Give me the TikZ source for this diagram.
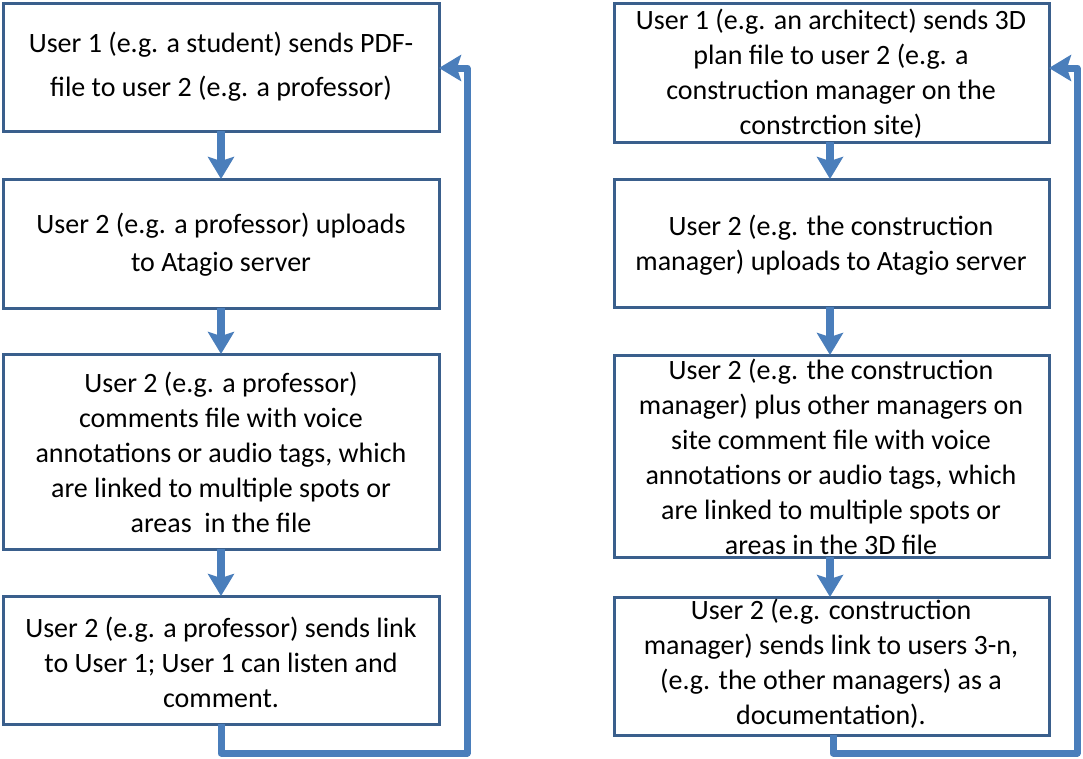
\documentclass[tikz,border=0pt]{standalone}
\usepackage{fontspec}
\setmainfont{Carlito}
\usetikzlibrary{arrows.meta}
\definecolor{boxline}{HTML}{3A5F8C}
\definecolor{arrowblue}{HTML}{4A7EBB}
\tikzset{
  stepbox/.style={draw=boxline, line width=3pt, fill=white, inner sep=0pt},
  boxtext/.style={align=center, font=\fontsize{28}{35}\selectfont, inner sep=0pt},
  flowarrow/.style={draw=arrowblue, line width=8pt, -{Stealth[length=22pt,width=26pt,inset=4pt]}},
  backline/.style={draw=arrowblue, line width=7pt, line join=round, -{Stealth[length=22pt,width=26pt,inset=4pt]}}
}
\begin{document}
\begin{tikzpicture}[x=1pt,y=-1pt]
\useasboundingbox (0,0) rectangle (1083,758);
% left column boxes
\draw[stepbox] (3,3) rectangle (439,131);
\coordinate (L1t) at (221,3); \coordinate (L1b) at (221,131); \coordinate (L1r) at (439,68);
\draw[stepbox] (3,179) rectangle (439,308);
\coordinate (L2t) at (221,179); \coordinate (L2b) at (221,308);
\draw[stepbox] (3,354) rectangle (439,549);
\coordinate (L3t) at (221,354); \coordinate (L3b) at (221,549);
\draw[stepbox] (3,596) rectangle (439,724);
\coordinate (L4t) at (221,596); \coordinate (L4b) at (221,724);
% right column boxes
\draw[stepbox] (614,3) rectangle (1049,142);
\coordinate (R1b) at (830,142); \coordinate (R1r) at (1049,68);
\draw[stepbox] (614,179) rectangle (1049,307);
\coordinate (R2t) at (830,179); \coordinate (R2b) at (830,307);
\draw[stepbox] (614,355) rectangle (1049,557);
\coordinate (R3t) at (830,355); \coordinate (R3b) at (830,557);
\draw[stepbox] (614,597) rectangle (1049,735);
\coordinate (R4t) at (830,597); \coordinate (R4b) at (833,735);

% texts left
\node[boxtext, font=\fontsize{28}{44}\selectfont] (tL1) at (221,67) {User 1 (e.g. a student) sends PDF-\\file to user 2 (e.g. a professor)};
\node[boxtext, font=\fontsize{28}{38}\selectfont] (tL2) at (221,245) {User 2 (e.g. a professor) uploads\\to Atagio server};
\node[boxtext] (tL3) at (221,452) {User 2 (e.g. a professor)\\comments file with voice\\annotations or audio tags, which\\are linked to multiple spots or\\areas\ \ in the file};
\node[boxtext] (tL4) at (221,662) {User 2 (e.g. a professor) sends link\\to User 1; User 1 can listen and\\comment.};
% texts right
\node[boxtext] (tR1) at (831,74) {User 1 (e.g. an architect) sends 3D\\plan file to user 2 (e.g. a\\construction manager on the\\constrction site)};
\node[boxtext] (tR2) at (831,245) {User 2 (e.g. the construction\\manager) uploads to Atagio server};
\node[boxtext] (tR3) at (831,457) {User 2 (e.g. the construction\\manager) plus other managers on\\site comment file with voice\\annotations or audio tags, which\\are linked to multiple spots or\\areas in the 3D file};
\node[boxtext] (tR4) at (831,664) {User 2 (e.g. construction\\manager) sends link to users 3-n,\\(e.g. the other managers) as a\\documentation).};

% arrows left
\draw[flowarrow] (L1b) -- (L2t);
\draw[flowarrow] (L2b) -- (L3t);
\draw[flowarrow] (L3b) -- (L4t);
\draw[backline] (L4b) -- (221,753) -- (467,753) -- (467,68) -- (L1r);
% arrows right
\draw[flowarrow] (R1b) -- (R2t);
\draw[flowarrow] (R2b) -- (R3t);
\draw[flowarrow] (R3b) -- (R4t);
\draw[backline] (R4b) -- (833,753) -- (1077,753) -- (1077,68) -- (R1r);
\end{tikzpicture}
\end{document}
